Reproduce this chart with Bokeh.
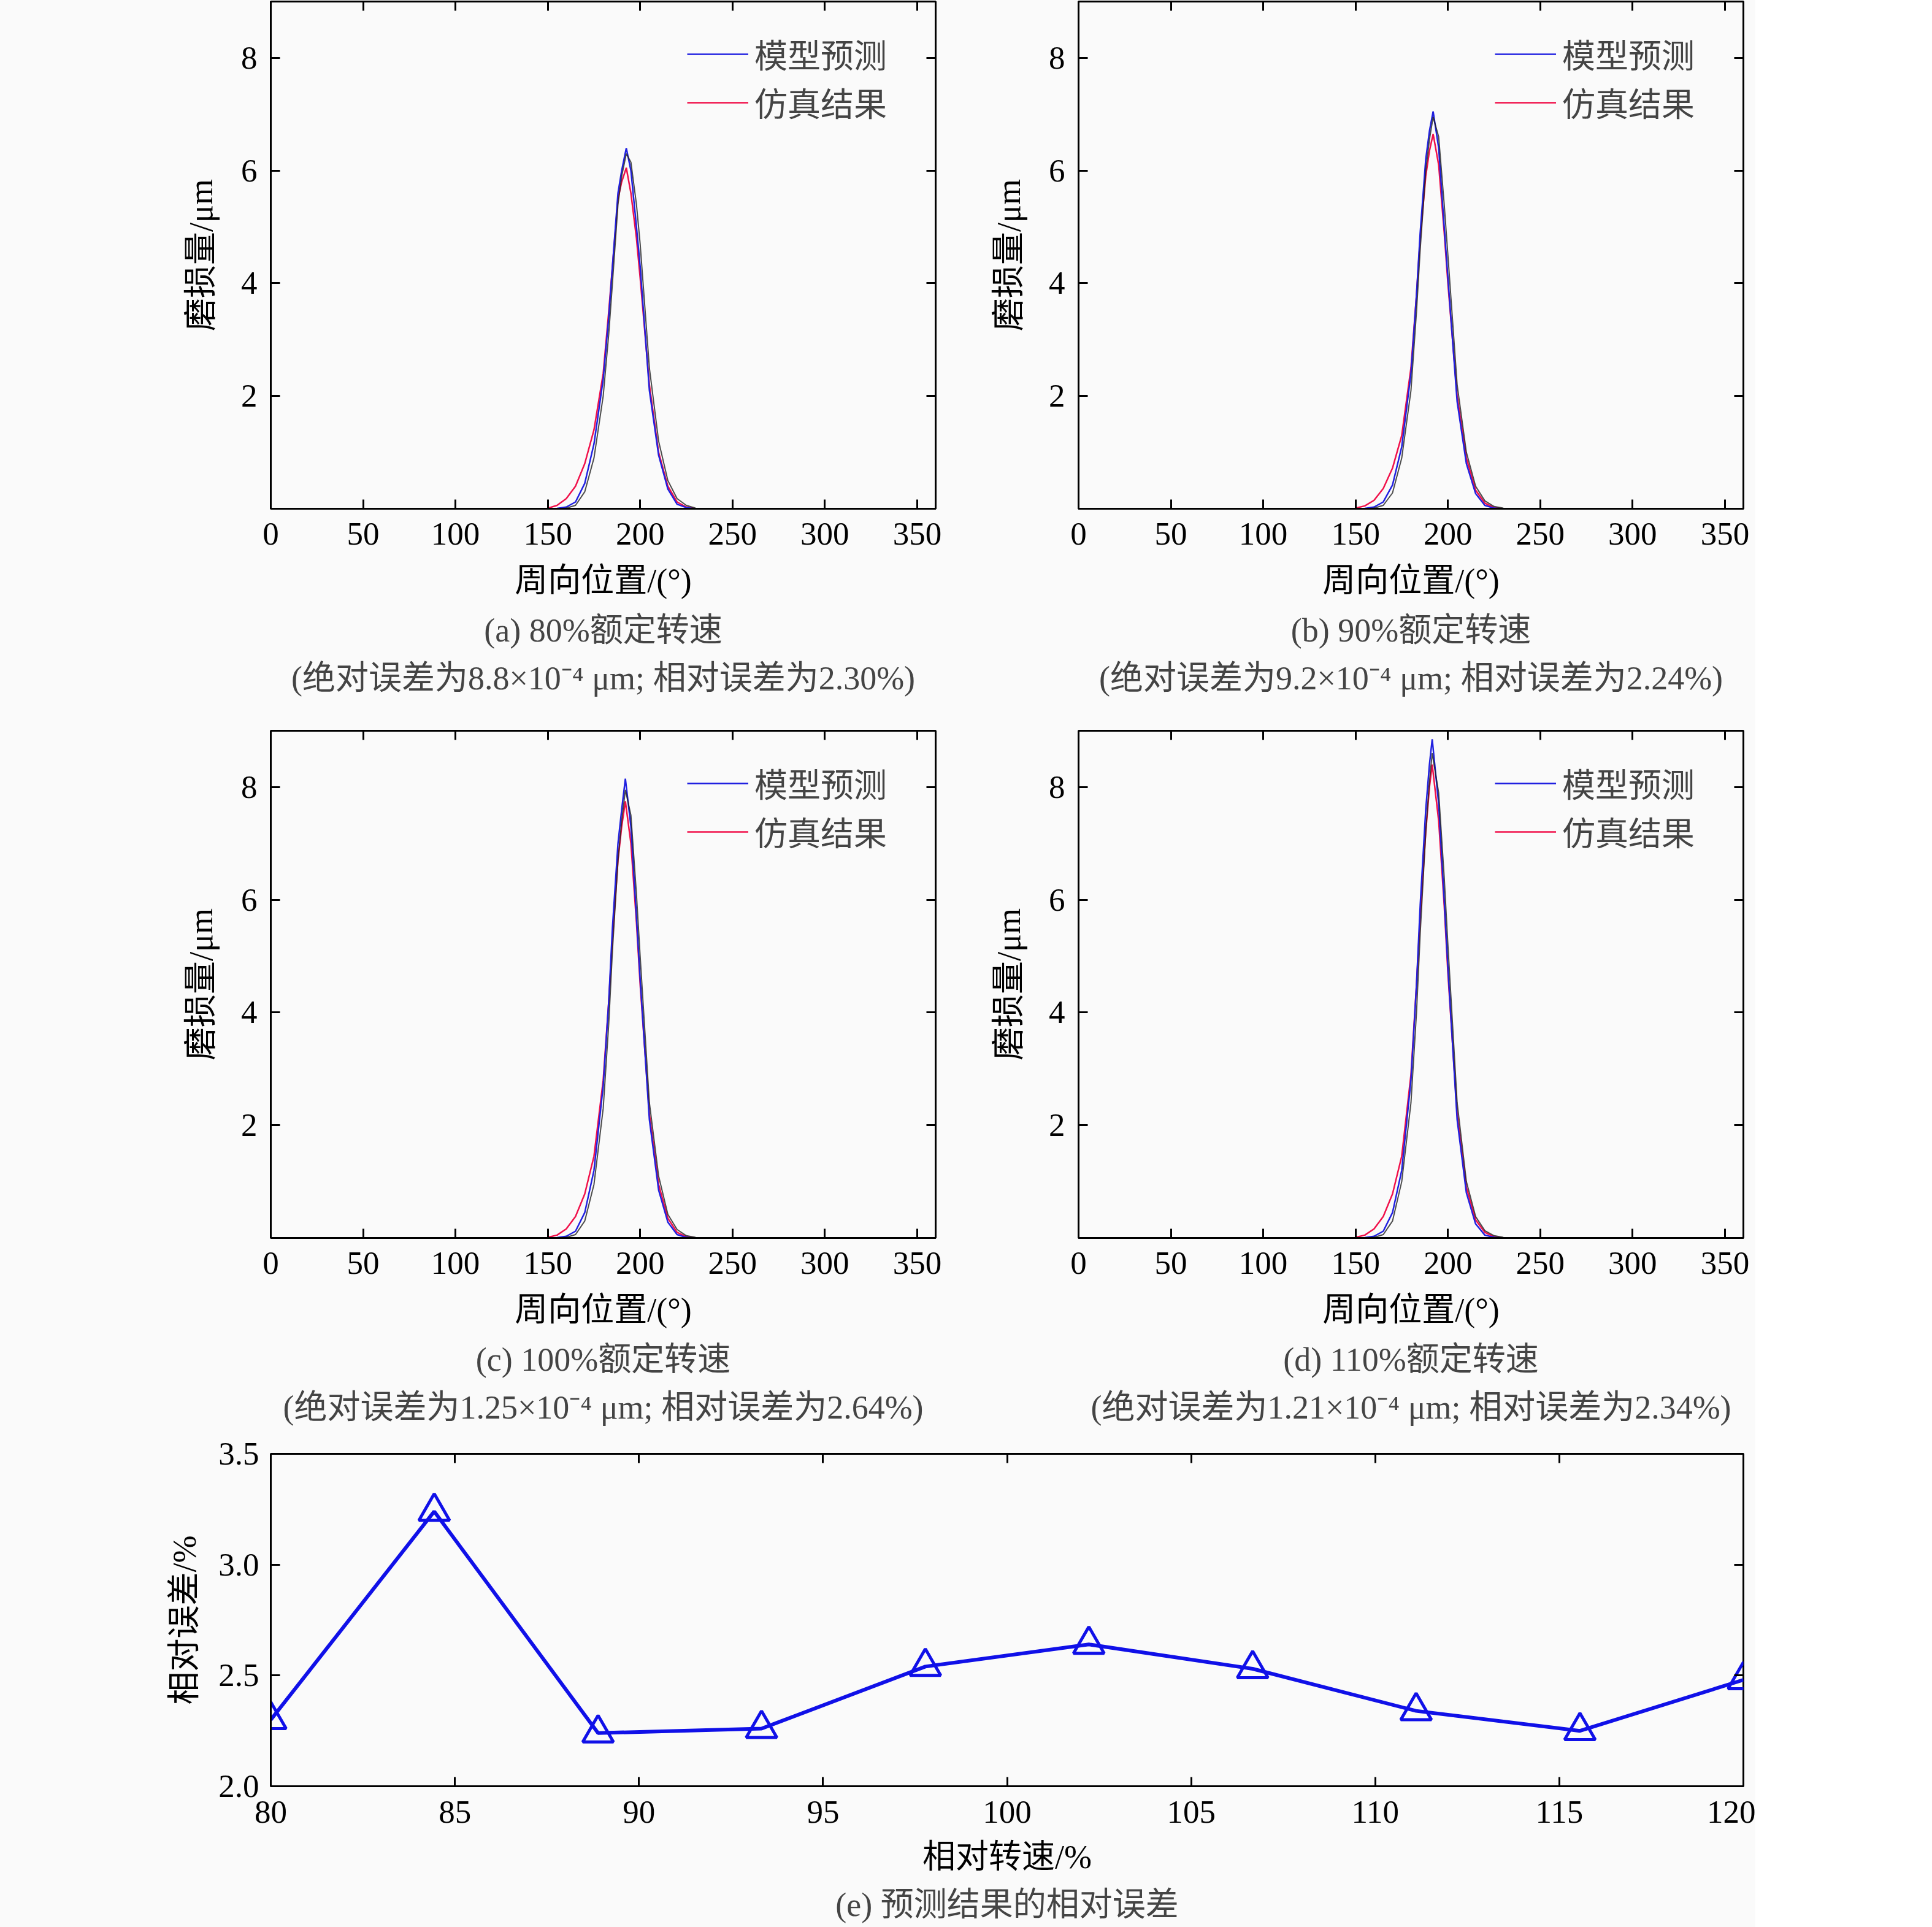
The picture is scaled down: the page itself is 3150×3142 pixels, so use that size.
from bokeh.plotting import figure
from bokeh.models import (LinearAxis, Title, Legend, LegendItem, FixedTicker,
                          Range1d, NumeralTickFormatter)
from bokeh.layouts import column, row
from bokeh.embed import file_html
from bokeh.resources import INLINE

FONT = "Liberation Serif, Noto Sans CJK SC"
BG = "#fafafa"

# ---------------- data ----------------
x_a = [150, 155, 160, 165, 170, 175, 180, 183, 185, 188, 190, 192.5, 195, 198, 200, 205, 210, 215, 220, 225, 230]
model_a = [0, 0.005, 0.03, 0.12, 0.45, 1.15, 2.3, 3.4, 4.3, 5.6, 6.0, 6.4, 6.0, 5.0, 4.3, 2.1, 0.95, 0.35, 0.08, 0.02, 0]
sim_a = [0.01, 0.06, 0.18, 0.4, 0.8, 1.4, 2.4, 3.5, 4.3, 5.5, 5.8, 6.05, 5.6, 4.8, 4.1, 2.2, 1.0, 0.4, 0.12, 0.03, 0]
other_a = [0, 0, 0.01, 0.06, 0.3, 0.9, 2.0, 3.1, 4.0, 5.4, 5.9, 6.3, 6.15, 5.4, 4.7, 2.5, 1.2, 0.5, 0.18, 0.06, 0.01]

x_b = [150, 155, 160, 165, 170, 175, 180, 183, 185, 188, 190, 192, 195, 198, 200, 205, 210, 215, 220, 225, 230]
model_b = [0, 0.005, 0.03, 0.12, 0.42, 1.1, 2.4, 3.8, 4.9, 6.2, 6.7, 7.05, 6.4, 5.0, 4.1, 1.9, 0.8, 0.27, 0.06, 0.01, 0]
sim_b = [0.01, 0.05, 0.15, 0.36, 0.72, 1.3, 2.5, 3.8, 4.8, 5.9, 6.35, 6.65, 6.1, 4.9, 4.0, 2.0, 0.9, 0.33, 0.1, 0.02, 0]
other_b = [0, 0, 0.01, 0.06, 0.28, 0.9, 2.1, 3.5, 4.6, 6.0, 6.55, 6.95, 6.6, 5.4, 4.5, 2.2, 1.0, 0.4, 0.14, 0.04, 0.01]

x_c = [150, 155, 160, 165, 170, 175, 180, 183, 185, 188, 190, 192, 195, 198, 200, 205, 210, 215, 220, 225, 230]
model_c = [0, 0.005, 0.03, 0.12, 0.45, 1.2, 2.7, 4.2, 5.5, 7.0, 7.6, 8.15, 7.3, 5.7, 4.6, 2.1, 0.85, 0.28, 0.06, 0.01, 0]
sim_c = [0.01, 0.05, 0.16, 0.38, 0.78, 1.45, 2.8, 4.2, 5.3, 6.7, 7.3, 7.75, 7.0, 5.6, 4.5, 2.2, 0.95, 0.35, 0.1, 0.02, 0]
other_c = [0, 0, 0.01, 0.06, 0.3, 0.95, 2.3, 3.8, 5.1, 6.7, 7.4, 7.95, 7.5, 6.1, 5.0, 2.4, 1.1, 0.42, 0.15, 0.04, 0.01]

x_d = [150, 155, 160, 165, 170, 175, 180, 183, 185, 188, 190, 191.5, 195, 198, 200, 205, 210, 215, 220, 225, 230]
model_d = [0, 0.005, 0.03, 0.12, 0.45, 1.2, 2.8, 4.5, 5.9, 7.6, 8.4, 8.85, 7.7, 6.0, 4.8, 2.1, 0.8, 0.25, 0.05, 0.01, 0]
sim_d = [0.01, 0.05, 0.16, 0.38, 0.78, 1.45, 2.9, 4.5, 5.7, 7.2, 8.0, 8.4, 7.4, 5.9, 4.7, 2.2, 0.9, 0.32, 0.1, 0.02, 0]
other_d = [0, 0, 0.01, 0.06, 0.3, 1.0, 2.4, 4.0, 5.4, 7.2, 8.1, 8.6, 7.9, 6.4, 5.2, 2.4, 1.0, 0.38, 0.13, 0.04, 0.01]

wear_xticks = [0, 50, 100, 150, 200, 250, 300, 350]
wear_yticks = [2, 4, 6, 8]
legend_labels = ["模型预测", "仿真结果"]

speed = [80, 84.44, 88.89, 93.33, 97.78, 102.22, 106.67, 111.11, 115.56, 120]
rel_err = [2.30, 3.24, 2.24, 2.26, 2.54, 2.64, 2.53, 2.34, 2.25, 2.48]
speed_ticks = [80, 85, 90, 95, 100, 105, 110, 115, 120]
err_ticks = [2.0, 2.5, 3.0, 3.5]

captions = [
    ("(a) 80%额定转速", "(绝对误差为8.8×10⁻⁴ μm; 相对误差为2.30%)"),
    ("(b) 90%额定转速", "(绝对误差为9.2×10⁻⁴ μm; 相对误差为2.24%)"),
    ("(c) 100%额定转速", "(绝对误差为1.25×10⁻⁴ μm; 相对误差为2.64%)"),
    ("(d) 110%额定转速", "(绝对误差为1.21×10⁻⁴ μm; 相对误差为2.34%)"),
]
caption_e = "(e) 预测结果的相对误差"

FW = 1084
TICK_FS = "53px"
LAB_FS = "54px"


def hidden_axis(ticks):
    return LinearAxis(ticker=FixedTicker(ticks=ticks), major_label_text_font_size="1px",
                      major_label_text_color=None, major_label_standoff=0,
                      major_tick_in=15, major_tick_out=0, major_tick_line_width=3,
                      minor_tick_line_color=None, axis_line_color=None)


def style_axes(p, xticks, yticks, xstand, xlabstand, ystand, ylabstand, yfmt=None):
    for ax in p.xaxis + p.yaxis:
        ax.major_tick_in = 15
        ax.major_tick_out = 0
        ax.minor_tick_line_color = None
        ax.axis_line_color = "black"
        ax.axis_line_width = 3
        ax.major_tick_line_width = 3
        ax.major_label_text_font = FONT
        ax.major_label_text_font_size = TICK_FS
        ax.major_label_text_color = "black"
        ax.axis_label_text_font = FONT
        ax.axis_label_text_font_size = LAB_FS
        ax.axis_label_text_font_style = "normal"
        ax.axis_label_text_color = "black"
    p.xaxis.ticker = FixedTicker(ticks=xticks)
    p.yaxis.ticker = FixedTicker(ticks=yticks)
    p.xaxis.major_label_standoff = xstand
    p.xaxis.axis_label_standoff = xlabstand
    p.yaxis.major_label_standoff = ystand
    p.yaxis.axis_label_standoff = ylabstand
    if yfmt:
        p.yaxis.formatter = NumeralTickFormatter(format=yfmt)
    p.add_layout(hidden_axis(xticks), "above")
    p.add_layout(hidden_axis(yticks), "right")
    p.outline_line_color = "black"
    p.outline_line_width = 3
    p.xgrid.visible = False
    p.ygrid.visible = False
    p.background_fill_color = BG
    p.border_fill_color = BG


def wear_panel(xs, ym, ys, yo, cap, bl, br, bt, bb, fh):
    p = figure(frame_width=FW, frame_height=fh, x_range=Range1d(0, 360), y_range=Range1d(0, 9),
               output_backend="svg", toolbar_location=None,
               min_border_left=bl, min_border_right=br, min_border_top=bt, min_border_bottom=bb)
    r_sim = p.line(xs, ys, line_color="#f0104a", line_width=2.5)
    r_mod = p.line(xs, ym, line_color="#2020e0", line_width=2.5)
    p.line(xs, yo, line_color="#202020", line_width=2, line_alpha=0.8)
    p.xaxis.axis_label = "周向位置/(°)"
    p.yaxis.axis_label = "磨损量/μm"
    style_axes(p, wear_xticks, wear_yticks, 23, 26, 22, 32)
    leg = Legend(items=[LegendItem(label=legend_labels[0], renderers=[r_mod]),
                        LegendItem(label=legend_labels[1], renderers=[r_sim])],
                 location=(679, fh - 204), border_line_color=None, background_fill_alpha=0,
                 label_text_font=FONT, label_text_font_size=LAB_FS,
                 glyph_width=100, glyph_height=60, label_height=60, spacing=0, padding=0,
                 margin=0, label_standoff=10)
    p.add_layout(leg)
    t1 = Title(text=cap[0], align="center", text_font=FONT, text_font_size=LAB_FS,
               text_font_style="normal", standoff=32)
    t2 = Title(text=cap[1], align="center", text_font=FONT, text_font_size=LAB_FS,
               text_font_style="normal", standoff=0)
    p.add_layout(t1, "below")
    p.add_layout(t2, "below")
    return p


# page rows: frame a 2-829; frame c 1191-2018; frame e 2370-2912 (page pixels)
pa = wear_panel(x_a, model_a, sim_a, other_a, captions[0], 441, 20, 2, 354, 827)
pb = wear_panel(x_b, model_b, sim_b, other_b, captions[1], 213, 20, 2, 354, 827)
pc = wear_panel(x_c, model_c, sim_c, other_c, captions[2], 441, 20, 8, 312, 827)
pd = wear_panel(x_d, model_d, sim_d, other_d, captions[3], 213, 20, 8, 312, 827)

pe = figure(frame_width=2401, frame_height=542, x_range=Range1d(80, 120), y_range=Range1d(2.0, 3.5),
            output_backend="svg", toolbar_location=None,
            min_border_left=441, min_border_right=20, min_border_top=40, min_border_bottom=215)
pe.line(speed, rel_err, line_color="#1010e8", line_width=6)
pe.scatter(speed, rel_err, marker="triangle", size=50, line_color="#1010e8", line_width=5,
           fill_color=None)
pe.xaxis.axis_label = "相对转速/%"
pe.yaxis.axis_label = "相对误差/%"
style_axes(pe, speed_ticks, err_ticks, 24, 23, 19, 22, yfmt="0.0")
pe.add_layout(Title(text=caption_e, align="center", text_font=FONT, text_font_size=LAB_FS,
                    text_font_style="normal", standoff=27), "below")

layout = column(row(pa, pb), row(pc, pd), pe)
layout.styles = {"background-color": BG}

open("out.html", "w").write(file_html(layout, INLINE))
